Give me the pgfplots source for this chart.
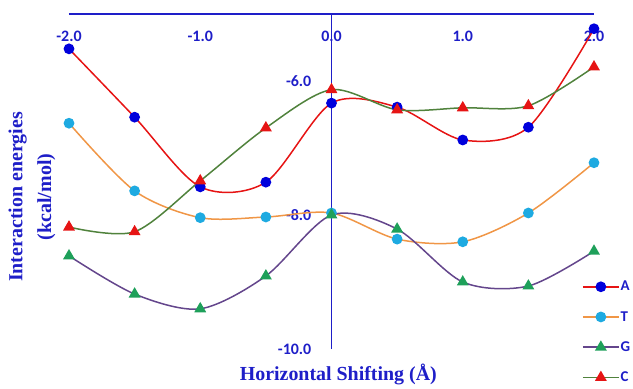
\documentclass[border=0pt]{standalone}
\usepackage{fontspec}
\setmainfont{Liberation Serif}
\newfontfamily\tickfont{Carlito}
\usepackage{pgfplots}
\pgfplotsset{compat=1.18}
\definecolor{axblue}{RGB}{30,30,200}
\definecolor{Aline}{RGB}{230,20,20}
\definecolor{Amark}{RGB}{0,0,220}
\definecolor{Tline}{RGB}{240,150,70}
\definecolor{Tmark}{RGB}{30,170,225}
\definecolor{Gline}{RGB}{100,70,140}
\definecolor{Gmark}{RGB}{30,160,90}
\definecolor{Cline}{RGB}{80,130,60}
\definecolor{Cmark}{RGB}{230,20,20}
\begin{document}
\begin{tikzpicture}
\path[use as bounding box] (-69bp,-40bp) rectangle (564bp,349bp);
\begin{axis}[
  at={(0,0)}, anchor=south west,
  scale only axis, width=525bp, height=335bp,
  xmin=-2, xmax=2, ymin=-10, ymax=-5,
  axis x line=top, axis y line=middle,
  axis line style={draw=axblue, line width=1.6bp, -},
  hide obscured x ticks=false, hide obscured y ticks=false,
  xtick={-2,-1,0,1,2}, ytick={-10,-8,-6},
  major tick length=0pt,
  clip=false,
  /pgf/number format/assume math mode=true,
  /pgf/number format/.cd, fixed, fixed zerofill, precision=1, /pgfplots/.cd,
  ticklabel style={font=\tickfont\bfseries\fontsize{16}{18}\selectfont, text=axblue},
  xticklabel style={anchor=center, yshift=-22bp},
  yticklabel style={anchor=east, inner sep=0pt, xshift=-20bp},
  every axis x label/.style={at={(axis description cs:0.513,-0.0955)}, anchor=base},
  every axis y label/.style={at={(axis description cs:-0.0705,0.454)}, rotate=90, anchor=center},
  xlabel={Horizontal Shifting (Å)},
  ylabel={Interaction energies\\(kcal/mol)},
  label style={font=\bfseries\fontsize{20}{29}\selectfont, text=axblue, align=center},
  legend image code/.code={\draw[mark repeat=2,mark phase=2] plot coordinates {(0bp,0bp) (18bp,0bp) (36bp,0bp)};},
  legend style={draw=none, fill=none, inner sep=0pt, at={(rel axis cs:0.977,0.206)}, anchor=north west,
    row sep=17bp, font=\tickfont\bfseries\fontsize{15}{17}\selectfont, text=axblue,
    nodes={inner sep=1bp}},
  legend cell align=left,
]
\addplot[Aline, line width=1.5bp, smooth, mark=*, mark size=4.6bp, mark options={draw=Amark, fill=Amark}]
  coordinates {(-2,-5.52) (-1.5,-6.54) (-1,-7.58) (-0.5,-7.51) (0,-6.33) (0.5,-6.39) (1,-6.88) (1.5,-6.69) (2,-5.22)};
\addlegendentry{A}
\addplot[Tline, line width=1.5bp, smooth, mark=*, mark size=4.6bp, mark options={draw=Tmark, fill=Tmark}]
  coordinates {(-2,-6.63) (-1.5,-7.64) (-1,-8.04) (-0.5,-8.03) (0,-7.97) (0.5,-8.36) (1,-8.40) (1.5,-7.97) (2,-7.22)};
\addlegendentry{T}
\addplot[Gline, line width=1.5bp, smooth, mark=triangle*, mark size=5.4bp, mark options={draw=Gmark, fill=Gmark}]
  coordinates {(-2,-8.61) (-1.5,-9.18) (-1,-9.40) (-0.5,-8.91) (0,-8.00) (0.5,-8.21) (1,-9.00) (1.5,-9.06) (2,-8.54)};
\addlegendentry{G}
\addplot[Cline, line width=1.5bp, smooth, mark=triangle*, mark size=5.4bp, mark options={draw=Cmark, fill=Cmark}]
  coordinates {(-2,-8.18) (-1.5,-8.25) (-1,-7.49) (-0.5,-6.70) (0,-6.13) (0.5,-6.43) (1,-6.40) (1.5,-6.37) (2,-5.79)};
\addlegendentry{C}
\end{axis}
\end{tikzpicture}
\end{document}
